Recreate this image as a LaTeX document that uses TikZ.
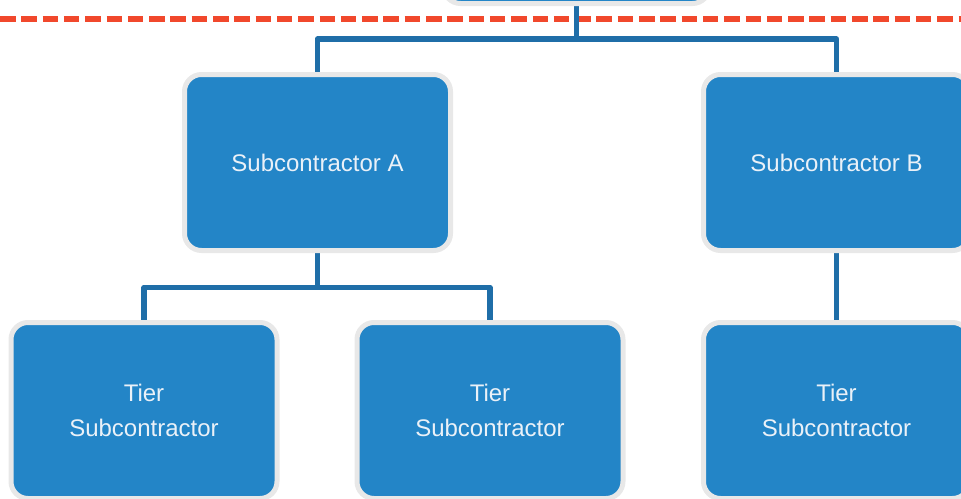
\documentclass[tikz,border=0pt]{standalone}
\usepackage{fontspec}
\setmainfont{Liberation Sans}
\usetikzlibrary{backgrounds}
\definecolor{boxblue}{HTML}{2385C7}
\definecolor{bordergray}{HTML}{E8E8E8}
\definecolor{connblue}{HTML}{1F6EA8}
\definecolor{dashred}{HTML}{F1482C}
\definecolor{txt}{HTML}{EAF1F8}
\tikzset{
  orgbox/.style={rectangle, rounded corners=17pt, fill=boxblue, draw=bordergray,
    line width=5pt, minimum width=266pt, minimum height=176pt, inner sep=0pt,
    text=txt, align=center, font=\fontsize{24}{35}\selectfont},
  conn/.style={draw=connblue, line width=5.5pt, line join=round},
  sep/.style={draw=dashred, line width=5.5pt, dash pattern=on 15.5pt off 5.8pt}
}
\begin{document}
\begin{tikzpicture}[x=1pt,y=-1pt]
\useasboundingbox (0,0) rectangle (961,498);
\clip (0,0) rectangle (961,498);
\node[orgbox] (top) at (576.5,-84.5) {};
\node[orgbox] (A) at (317.5,162.5) {Subcontractor A};
\node[orgbox] (B) at (836.5,162.5) {Subcontractor B};
\node[orgbox] (T1) at (144,410.5) {Tier\\Subcontractor};
\node[orgbox] (T2) at (490,410.5) {Tier\\Subcontractor};
\node[orgbox] (T3) at (836.5,410.5) {Tier\\Subcontractor};
\coordinate (j1) at (576.5,39);
\coordinate (j2) at (317.5,287.5);
\begin{scope}[on background layer]
  \coordinate (dl) at (0,18.8);
  \coordinate (dr) at (961,18.8);
  \draw[sep] (dl) -- (dr);
  \draw[conn] (top.south) -- (j1);
  \draw[conn] (A.north) |- (j1) -| (B.north);
  \draw[conn] (A.south) -- (j2);
  \draw[conn] (T1.north) |- (j2) -| (T2.north);
  \draw[conn] (B.south) -- (T3.north);
\end{scope}
\end{tikzpicture}
\end{document}
